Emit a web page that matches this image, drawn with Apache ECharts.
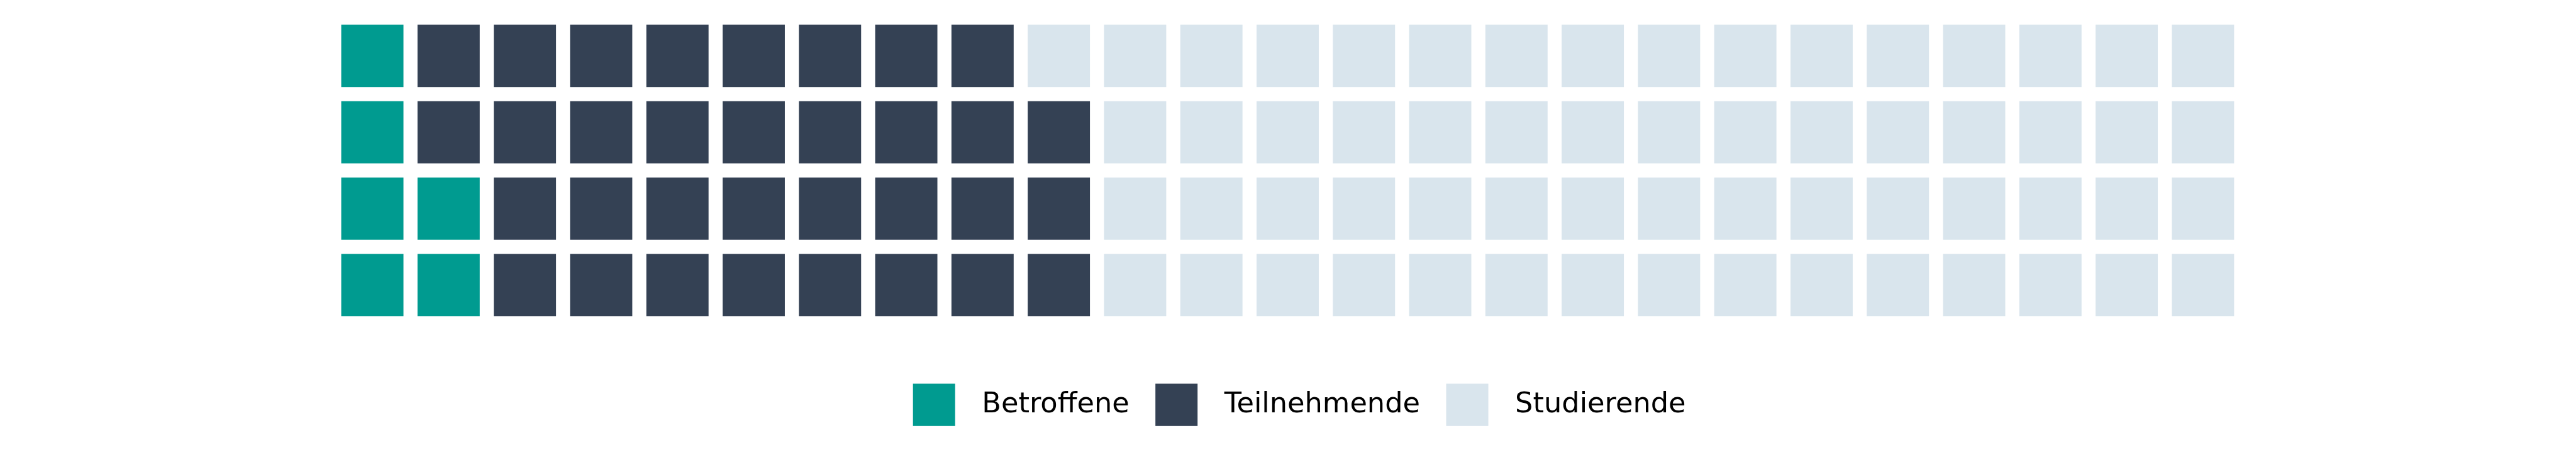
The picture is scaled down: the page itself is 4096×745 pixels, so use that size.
<!DOCTYPE html>
<html>
<head>
<meta charset="utf-8">
<script src="https://cdn.jsdelivr.net/npm/echarts@6/dist/echarts.min.js"></script>
<style>html,body{margin:0;padding:0;background:#fff;}#c{width:4096px;height:745px;}</style>
</head>
<body>
<div id="c"></div>
<script>
// Data
const categories = ['Betroffene', 'Teilnehmende', 'Studierende'];
const values = [6, 33, 61];
const colors = ['#009B90', '#344154', '#D9E5ED'];
const nCols = 25;
const nRows = 4;

const S = 4096 / 7700;

// Build waffle cells: fill column by column, bottom to top
const seriesCells = categories.map(() => []);
let k = 0;
values.forEach((v, ci) => {
  for (let i = 0; i < v; i++) {
    const col = Math.floor(k / nRows);
    const row = k % nRows;
    seriesCells[ci].push([col, row]);
    k++;
  }
});

const cellFrac = 186 / 228;

function renderCell(params, api) {
  const c = api.coord([api.value(0), api.value(1)]);
  const sz = api.size([1, 1]);
  const w = sz[0] * cellFrac, h = sz[1] * cellFrac;
  return {
    type: 'rect',
    shape: { x: c[0] - w / 2, y: c[1] - h / 2, width: w, height: h },
    style: { fill: api.visual('color') }
  };
}

const chart = echarts.init(document.getElementById('c'), null, { renderer: 'canvas' });
chart.setOption({
  animation: false,
  backgroundColor: '#ffffff',
  grid: {
    left: 999 * S, top: 53 * S, width: 5700 * S, height: 912 * S,
    containLabel: false
  },
  xAxis: { type: 'value', min: -0.5, max: nCols - 0.5, show: false },
  yAxis: { type: 'value', min: -0.5, max: nRows - 0.5, show: false },
  legend: {
    data: categories,
    left: 2729 * S,
    top: 1146 * S,
    padding: 0,
    icon: 'rect',
    itemWidth: 126 * S,
    itemHeight: 126 * S,
    itemGap: 78 * S,
    textStyle: {
      fontFamily: 'DejaVu Sans',
      fontSize: 84 * S,
      color: '#000000',
      padding: [6, 0, 0, 80 * S - 5]
    }
  },
  series: categories.map((name, i) => ({
    name: name,
    type: 'custom',
    renderItem: renderCell,
    itemStyle: { color: colors[i] },
    encode: { x: 0, y: 1 },
    data: seriesCells[i]
  }))
});
</script>
</body>
</html>
